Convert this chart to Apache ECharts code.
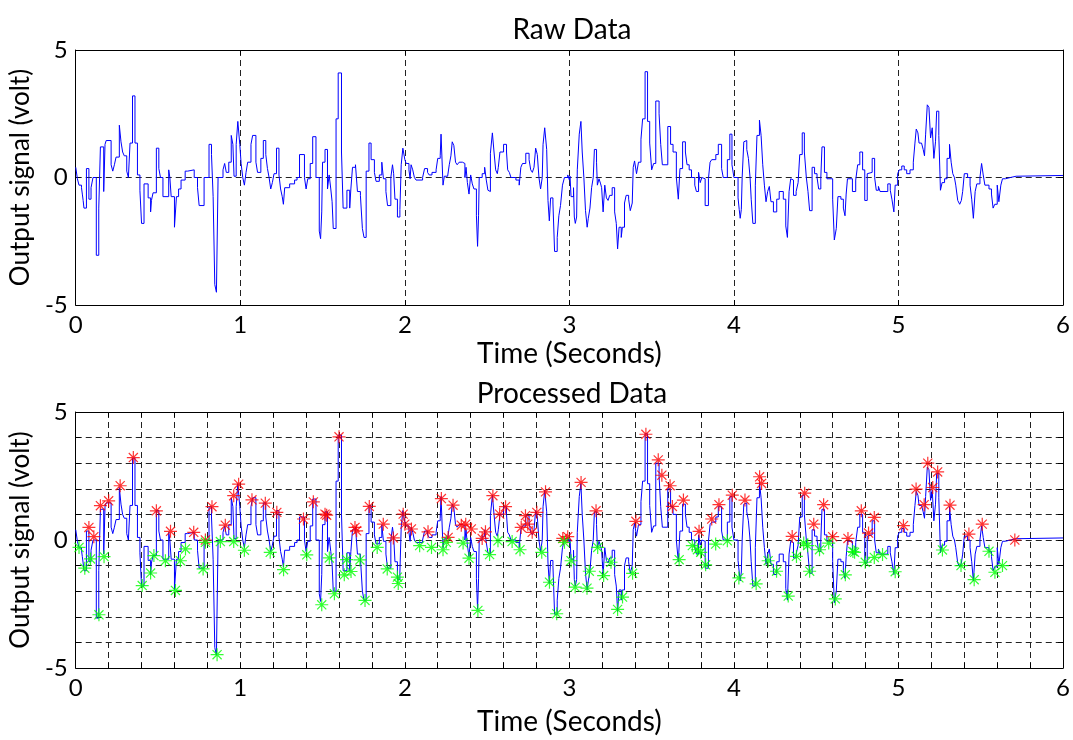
<!DOCTYPE html>
<html>
<head>
<meta charset="utf-8">
<script src="https://cdn.jsdelivr.net/npm/echarts@6/dist/echarts.min.js"></script>
<style>
    html, body {margin: 0; padding: 0; background: #fff;}
    #main {width: 1073px; height: 740px;}
</style>
</head>
<body>
<div id="main"></div>
<script>
// signal break points [time, volt], value held until the next point
let raw0 = [[0.000,0.40],[0.010,-0.05],[0.020,-0.30],[0.035,-0.40],[0.040,-0.65],[0.045,-0.90],[0.050,-1.20],[0.065,0.35],[0.080,-0.85],[0.093,-0.40],[0.105,0.00],[0.125,-3.05],[0.140,-1.20],[0.150,1.20],[0.170,-0.55],[0.178,1.30],[0.185,1.45],[0.215,0.50],[0.225,0.25],[0.235,0.50],[0.245,0.80],[0.265,2.05],[0.275,1.40],[0.285,1.00],[0.295,0.85],[0.310,0.25],[0.320,0.00],[0.330,1.35],[0.345,3.20],[0.360,1.35],[0.375,0.10],[0.390,-0.50],[0.400,-1.80],[0.415,-0.25],[0.440,-0.80],[0.455,-1.35],[0.460,-0.90],[0.470,-0.60],[0.490,1.15],[0.505,0.35],[0.515,0.00],[0.530,-0.75],[0.565,0.30],[0.572,0.00],[0.580,-0.75],[0.600,-1.95],[0.612,-0.75],[0.625,-0.45],[0.640,-0.10],[0.665,0.25],[0.680,0.30],[0.720,0.00],[0.740,-0.40],[0.750,-1.10],[0.780,0.00],[0.810,1.30],[0.825,0.90],[0.835,-0.75],[0.845,-4.20],[0.855,-4.50],[0.865,0.00],[0.895,0.30],[0.905,0.55],[0.915,0.20],[0.930,0.60],[0.945,1.65],[0.955,1.30],[0.962,0.05],[0.975,1.30],[0.985,2.20]];
let raw1 = [[0.997,1.30],[1.005,0.55],[1.015,0.00],[1.025,-0.30],[1.035,0.20],[1.045,0.60],[1.065,1.30],[1.075,1.65],[1.095,0.60],[1.105,0.20],[1.125,0.75],[1.140,1.45],[1.155,0.90],[1.165,0.35],[1.175,0.00],[1.185,-0.45],[1.195,-0.20],[1.205,0.15],[1.220,1.15],[1.235,0.10],[1.245,-0.45],[1.255,-0.75],[1.262,-1.05],[1.270,-0.40],[1.300,-0.25],[1.330,-0.10],[1.345,0.00],[1.360,0.90],[1.390,0.00],[1.400,-0.45],[1.410,-0.05],[1.425,0.55],[1.440,1.60],[1.460,0.00],[1.480,-2.10],[1.488,-2.40],[1.495,-1.35],[1.500,0.60],[1.515,1.10],[1.530,-0.45],[1.540,0.10],[1.550,-0.45],[1.558,-0.95],[1.565,-2.00],[1.582,2.30],[1.595,4.10],[1.615,1.00],[1.625,-1.20],[1.648,-0.50],[1.665,-1.20],[1.672,-0.45],[1.682,0.40],[1.700,0.50],[1.712,-0.55],[1.730,-0.70],[1.742,-2.00],[1.752,-2.35],[1.765,0.25],[1.782,1.35],[1.795,0.70],[1.815,0.20],[1.825,-0.15],[1.845,0.10],[1.860,0.60],[1.870,-0.05],[1.885,-0.55],[1.895,-1.10],[1.915,0.00],[1.925,0.50],[1.932,0.15],[1.940,-0.85],[1.955,-1.55],[1.970,-1.25],[1.978,0.50],[1.988,1.15]];
let raw2 = [[2.000,0.70],[2.008,0.55],[2.025,0.30],[2.032,-0.05],[2.038,0.50],[2.048,0.30],[2.058,0.00],[2.068,-0.10],[2.108,0.00],[2.120,0.35],[2.138,0.20],[2.148,0.10],[2.165,0.20],[2.190,0.30],[2.200,0.75],[2.215,0.85],[2.220,1.70],[2.232,-0.30],[2.240,0.05],[2.260,0.10],[2.270,0.50],[2.280,0.85],[2.288,1.40],[2.298,1.25],[2.308,0.60],[2.318,0.50],[2.330,0.60],[2.350,0.55],[2.365,0.00],[2.372,0.40],[2.380,-0.20],[2.390,-0.65],[2.400,0.10],[2.410,-0.25],[2.420,-0.45],[2.435,-1.50],[2.442,-2.70],[2.448,-1.50],[2.452,0.00],[2.470,0.15],[2.485,0.40],[2.495,-0.10],[2.505,-0.50],[2.512,-0.55],[2.520,0.95],[2.532,1.75],[2.542,1.00],[2.552,0.30],[2.562,0.15],[2.568,0.40],[2.578,1.00],[2.600,1.30],[2.618,1.00],[2.625,0.30],[2.635,0.20],[2.645,0.00],[2.675,-0.10],[2.695,-0.30],[2.705,0.40],[2.715,0.55],[2.735,0.95],[2.755,0.70],[2.765,0.30],[2.775,0.20],[2.785,0.40],[2.795,1.15],[2.805,0.90],[2.815,0.00],[2.825,-0.45],[2.835,0.00],[2.840,1.30],[2.850,1.95],[2.862,1.10],[2.870,-0.90],[2.878,-1.70],[2.886,-0.80],[2.900,-1.00],[2.910,-2.90],[2.926,-2.35],[2.936,-1.50],[2.946,-1.10],[2.958,-0.30],[2.970,0.00],[2.990,0.10]];
let raw3 = [[3.000,-0.10],[3.004,0.05],[3.010,-0.75],[3.025,-0.40],[3.030,-1.55],[3.036,-1.80],[3.044,-1.55],[3.048,0.30],[3.060,1.70],[3.070,2.20],[3.078,1.00],[3.088,0.00],[3.098,-1.30],[3.108,-1.95],[3.115,-1.60],[3.125,-1.20],[3.135,-0.40],[3.145,0.00],[3.152,1.10],[3.165,0.60],[3.170,-0.30],[3.180,-0.05],[3.190,-0.25],[3.196,-0.40],[3.205,-1.35],[3.215,-0.30],[3.225,-0.80],[3.235,-0.90],[3.245,-0.70],[3.260,-0.40],[3.275,-1.35],[3.285,-1.80],[3.293,-2.80],[3.302,-1.95],[3.315,-2.35],[3.322,-1.95],[3.335,-1.00],[3.345,-0.70],[3.360,-0.85],[3.370,-1.30],[3.382,-1.00],[3.388,0.40],[3.396,0.65],[3.408,0.15],[3.420,0.60],[3.435,1.50],[3.445,2.30],[3.460,4.15],[3.475,2.20],[3.488,1.35],[3.500,0.30],[3.512,0.55],[3.525,3.00],[3.545,2.50],[3.555,1.30],[3.565,0.50],[3.598,2.00],[3.615,1.30],[3.630,1.00],[3.650,0.00],[3.662,-0.85],[3.672,0.35],[3.688,1.40],[3.705,1.00],[3.715,0.50],[3.728,0.30],[3.742,0.00],[3.762,-0.30],[3.772,-0.55],[3.785,0.20],[3.795,-0.20],[3.805,0.00],[3.815,-0.05],[3.825,-1.10],[3.845,-0.05],[3.855,0.60],[3.865,0.70],[3.890,0.90],[3.905,1.30],[3.925,0.35],[3.935,0.00],[3.960,0.70],[3.975,1.70],[3.988,0.50]];
let raw4 = [[4.000,0.00],[4.025,-0.80],[4.032,-1.25],[4.038,-1.60],[4.045,-1.25],[4.050,0.00],[4.060,1.40],[4.070,1.45],[4.078,1.10],[4.088,0.75],[4.098,0.00],[4.105,-0.85],[4.115,-1.80],[4.130,-0.30],[4.140,1.65],[4.155,2.25],[4.165,1.65],[4.175,0.50],[4.185,-0.30],[4.195,-0.95],[4.205,-0.55],[4.215,-0.35],[4.225,-0.95],[4.240,-1.35],[4.260,-0.85],[4.275,-0.55],[4.300,-0.85],[4.315,-1.90],[4.325,-2.35],[4.335,-0.55],[4.345,-0.05],[4.352,-0.10],[4.362,-0.70],[4.378,-0.55],[4.390,-0.20],[4.400,0.90],[4.415,1.75],[4.428,1.00],[4.440,0.00],[4.450,-0.55],[4.460,-1.30],[4.475,0.40],[4.490,0.15],[4.505,0.00],[4.515,-0.45],[4.528,0.00],[4.535,1.20],[4.550,0.20],[4.565,-0.05],[4.600,-0.85],[4.610,-2.45],[4.622,-2.00],[4.632,-0.75],[4.650,-0.85],[4.665,-1.20],[4.675,-1.50],[4.682,-0.65],[4.690,-0.05],[4.720,-0.55],[4.740,-0.10],[4.752,0.50],[4.765,1.00],[4.782,0.30],[4.795,-0.90],[4.810,0.15],[4.820,0.20],[4.840,0.75],[4.855,0.00],[4.865,-0.50],[4.878,-0.35],[4.888,-0.55],[4.935,-0.25],[4.950,-0.50],[4.960,-0.85],[4.972,-1.35],[4.980,-0.30],[4.995,0.15]];
let raw5 = [[5.005,0.30],[5.020,0.45],[5.035,0.30],[5.050,0.15],[5.070,0.30],[5.090,0.60],[5.100,1.35],[5.108,1.90],[5.118,1.75],[5.125,1.35],[5.140,1.30],[5.150,1.10],[5.158,0.85],[5.165,1.70],[5.175,2.85],[5.185,2.75],[5.195,1.55],[5.205,1.95],[5.215,0.75],[5.225,1.40],[5.232,2.60],[5.245,1.65],[5.255,-0.50],[5.265,-0.20],[5.280,-0.05],[5.295,0.75],[5.310,1.30],[5.320,0.60],[5.330,0.15],[5.340,0.00],[5.348,-0.30],[5.360,-0.90],[5.372,-1.05],[5.382,-0.90],[5.390,-0.55],[5.400,0.15],[5.420,0.00],[5.435,-0.30],[5.445,-0.85],[5.455,-1.60],[5.466,-0.55],[5.476,-0.25],[5.495,0.00],[5.505,0.55],[5.515,0.10],[5.525,-0.30],[5.550,-0.45],[5.565,-0.65],[5.575,-1.20],[5.585,-1.05],[5.600,-0.30],[5.610,-0.95],[5.622,-0.30],[5.632,-0.05],[5.650,0.00],[5.680,0.05],[5.715,0.08],[6.000,0.08]];

// detected peaks (red) and troughs (green) [time, volt]
let peaks = [[0.08,0.49],[0.11,0.13],[0.15,1.34],[0.20,1.53],[0.27,2.12],[0.35,3.22],[0.49,1.14],[0.576,0.34],[0.717,0.30],[0.788,0.00],[0.828,1.30],[0.909,0.58],[0.96,1.73],[0.99,2.18],[1.071,1.57],[1.152,1.44],[1.222,1.08],[1.384,0.82],[1.444,1.49],[1.515,1.01],[1.525,0.97],[1.60,4.03],[1.697,0.49],[1.707,0.36],[1.784,1.31],[1.869,0.62],[1.93,0.08],[1.99,1.01],[2.0,0.62],[2.04,0.43],[2.141,0.32],[2.222,1.62],[2.263,0.10],[2.293,1.36],[2.343,0.58],[2.37,0.62],[2.404,0.43],[2.47,0.06],[2.49,0.32],[2.535,1.73],[2.576,1.01],[2.612,1.30],[2.707,0.49],[2.733,0.95],[2.747,0.62],[2.774,0.30],[2.802,1.08],[2.855,1.88],[2.96,0.06],[2.99,0.13],[3.071,2.25],[3.162,1.14],[3.404,0.73],[3.465,4.13],[3.54,3.13],[3.562,2.53],[3.612,2.12],[3.626,1.31],[3.693,1.56],[3.788,0.34],[3.865,0.82],[3.909,1.38],[3.99,1.75],[4.067,1.56],[4.156,2.47],[4.168,2.21],[4.354,0.14],[4.43,1.83],[4.485,0.62],[4.545,1.38],[4.60,0.13],[4.693,0.06],[4.774,1.14],[4.818,0.27],[4.853,0.88],[5.03,0.56],[5.107,1.99],[5.156,1.38],[5.178,3.0],[5.208,2.05],[5.238,2.66],[5.313,1.36],[5.428,0.23],[5.509,0.62],[5.707,0.0]];
let troughs = [[0.02,-0.29],[0.055,-1.10],[0.09,-0.74],[0.141,-2.92],[0.172,-0.65],[0.404,-1.78],[0.455,-1.29],[0.475,-0.61],[0.545,-0.81],[0.606,-1.97],[0.636,-0.81],[0.667,-0.35],[0.774,-1.13],[0.788,-0.09],[0.859,-4.48],[0.879,-0.06],[0.96,-0.06],[1.025,-0.40],[1.182,-0.48],[1.263,-1.16],[1.404,-0.58],[1.495,-2.53],[1.541,-0.70],[1.572,-2.10],[1.632,-1.36],[1.646,-0.77],[1.673,-1.23],[1.727,-0.78],[1.758,-2.36],[1.832,-0.29],[1.893,-1.13],[1.955,-1.45],[1.96,-1.70],[2.09,-0.22],[2.162,-0.29],[2.232,-0.38],[2.252,-0.09],[2.354,-0.12],[2.39,-0.71],[2.444,-2.75],[2.515,-0.57],[2.566,-0.03],[2.652,-0.06],[2.70,-0.38],[2.832,-0.48],[2.879,-1.65],[2.923,-2.88],[2.97,-0.09],[3.01,-0.81],[3.035,-1.84],[3.107,-1.88],[3.121,-1.22],[3.172,-0.29],[3.208,-1.39],[3.253,-0.87],[3.293,-2.71],[3.323,-2.23],[3.384,-1.30],[3.667,-0.77],[3.747,-0.22],[3.778,-0.38],[3.798,-0.48],[3.828,-0.97],[3.889,-0.16],[3.96,-0.03],[4.03,-1.48],[4.135,-1.71],[4.208,-0.81],[4.259,-1.22],[4.33,-2.19],[4.38,-0.64],[4.424,-0.12],[4.448,-0.22],[4.46,-1.22],[4.52,-0.38],[4.576,-0.12],[4.616,-2.30],[4.677,-1.36],[4.723,-0.45],[4.733,-0.48],[4.798,-0.87],[4.853,-0.68],[4.903,-0.57],[4.98,-1.24],[5.267,-0.39],[5.38,-1.0],[5.46,-1.55],[5.55,-0.44],[5.586,-1.26],[5.632,-1.0]];

let titles = ['Raw Data', 'Processed Data'];
let xName = 'Time (Seconds)';
let yName = 'Output signal (volt)';

let signal = raw0.concat(raw1, raw2, raw3, raw4, raw5);

let font = 'Lato';
let star = 'path://M0,5L10,5M5,0L5,10M1.5,1.5L8.5,8.5M8.5,1.5L1.5,8.5';
let dash = {color: '#222', type: [6, 4], width: 1};

let isInt = (v) => Math.abs(v - Math.round(v)) < 1e-6;

// bottom/left axes carry labels, top/right only draw the box + ticks
let makeX = (gi, xStep, pos) => ({
    type: 'value', gridIndex: gi, min: 0, max: 6, interval: xStep, position: pos,
    name: pos === 'bottom' ? xName : '', nameLocation: 'middle',
    nameGap: gi === 0 ? 35 : 40,
    nameTextStyle: {fontFamily: font, fontSize: 28, color: '#000'},
    axisLine: {show: true, onZero: false, lineStyle: {color: '#000', width: 1}},
    axisTick: {show: true, inside: true, length: 5, lineStyle: {color: '#000'}},
    axisLabel: {
        show: pos === 'bottom', margin: 8, fontFamily: font, fontSize: 24, color: '#000',
        formatter: (v) => isInt(v) ? String(Math.round(v)) : ''
    },
    splitLine: {show: pos === 'bottom', showMinLine: false, showMaxLine: false, lineStyle: dash}
});
let makeY = (gi, yStep, pos) => ({
    type: 'value', gridIndex: gi, min: -5, max: 5, interval: yStep, position: pos,
    name: pos === 'left' ? yName : '', nameLocation: 'middle', nameGap: 26,
    nameTruncate: {maxWidth: 600},
    nameTextStyle: {fontFamily: font, fontSize: 26, color: '#000', overflow: 'none', width: 600},
    axisLine: {show: true, onZero: false, lineStyle: {color: '#000', width: 1}},
    axisTick: {show: true, inside: true, length: 5, lineStyle: {color: '#000'}},
    axisLabel: {
        show: pos === 'left', margin: 8, fontFamily: font, fontSize: 24, color: '#000',
        formatter: (v) => (Math.round(v) % 5 === 0) ? String(Math.round(v)) : ''
    },
    splitLine: {show: pos === 'left', showMinLine: false, showMaxLine: false, lineStyle: dash}
});

let titleStyle = {fontFamily: font, fontSize: 28, fontWeight: 'normal', color: '#000'};

let myChart = echarts.init(document.getElementById('main'));
let option = {
    animation: false,
    backgroundColor: '#fff',
    title: [
        {text: titles[0], left: 567, textAlign: 'center', top: 11, textStyle: titleStyle},
        {text: titles[1], left: 567, textAlign: 'center', top: 375, textStyle: titleStyle}
    ],
    grid: [
        {left: 74, top: 50, width: 991, height: 255},
        {left: 74, top: 412, width: 991, height: 256}
    ],
    xAxis: [makeX(0, 1, 'bottom'), makeX(0, 1, 'top'), makeX(1, 0.2, 'bottom'), makeX(1, 0.2, 'top')],
    yAxis: [makeY(0, 5, 'left'), makeY(0, 5, 'right'), makeY(1, 1, 'left'), makeY(1, 1, 'right')],
    series: [
        {
            type: 'line', xAxisIndex: 0, yAxisIndex: 0, data: signal, step: 'end',
            showSymbol: false, lineStyle: {color: '#0000ff', width: 1}, z: 3
        },
        {
            type: 'line', xAxisIndex: 2, yAxisIndex: 2, data: signal, step: 'end',
            showSymbol: false, lineStyle: {color: '#0000ff', width: 1}, z: 3
        },
        {
            type: 'scatter', xAxisIndex: 2, yAxisIndex: 2, data: peaks,
            symbol: star, symbolSize: 13,
            itemStyle: {color: 'rgba(0,0,0,0)', borderColor: '#ff0000', borderWidth: 1.2}, z: 4
        },
        {
            type: 'scatter', xAxisIndex: 2, yAxisIndex: 2, data: troughs,
            symbol: star, symbolSize: 13,
            itemStyle: {color: 'rgba(0,0,0,0)', borderColor: '#00ff00', borderWidth: 1.2}, z: 4
        }
    ]
};
myChart.setOption(option);
</script>
</body>
</html>
